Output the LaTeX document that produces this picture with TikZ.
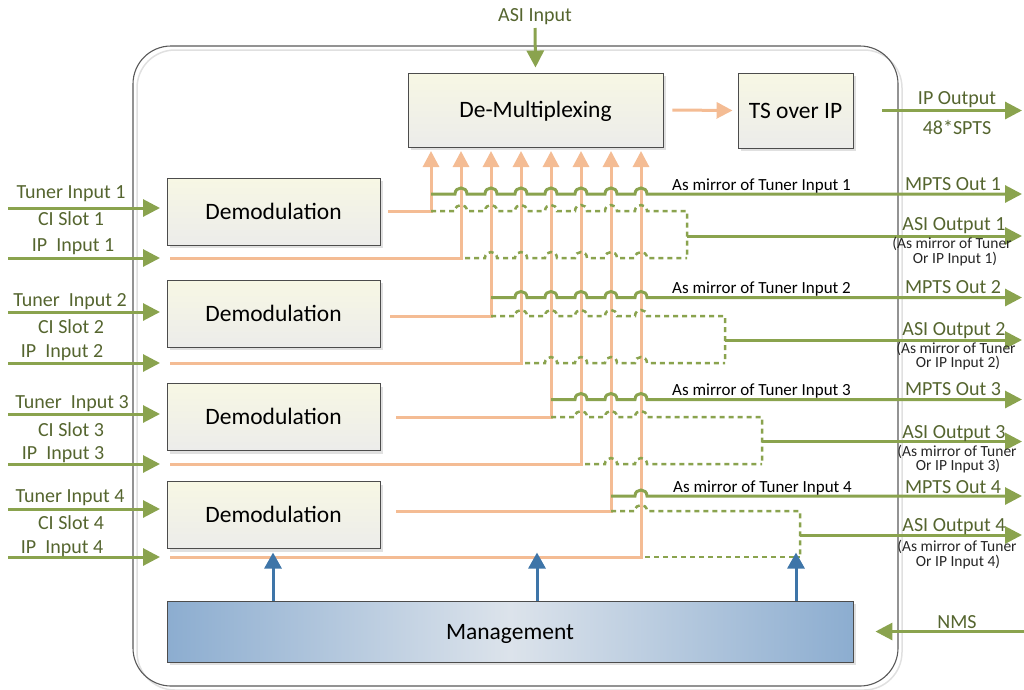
\documentclass[tikz,border=0pt]{standalone}
\usepackage{fontspec}
\setmainfont{Carlito}
\usetikzlibrary{arrows.meta,shadows}
\definecolor{grn}{HTML}{8AA34E}
\definecolor{orng}{HTML}{F4BC94}
\definecolor{bluea}{HTML}{3E75A8}
\definecolor{lbl}{HTML}{55652F}
\definecolor{boxtop}{HTML}{F7F7E4}
\definecolor{boxbot}{HTML}{ECECEA}
\definecolor{mgE}{HTML}{8CADD0}
\definecolor{mgC}{HTML}{DCE3EB}
% horizontal line with hop-overs: style, x0, y, crossing list, x1, extra path
\newcommand\hopline[6]{\draw[#1] (#2,#3) \foreach \v in {#4} {-- (\v-6,#3) .. controls (\v-6,#3-8) and (\v+6,#3-8) .. (\v+6,#3)} -- (#5,#3) #6;}
\begin{document}
\begin{tikzpicture}[x=1pt,y=-1pt,
 blk/.style={draw=black!70, line width=0.9pt, top color=boxtop, bottom color=boxbot,
   drop shadow={shadow xshift=3pt,shadow yshift=-3pt,fill=black!12,opacity=1},
   font=\fontsize{23.5}{26}\selectfont, inner sep=0pt, text height=15pt, text depth=0pt},
 ol/.style={orng, line width=3pt},
 oarr/.style={ol, -{Triangle[length=16pt,width=16pt]}},
 garr/.style={grn, line width=3pt, -{Triangle[length=17pt,width=17pt]}},
 gd/.style={grn, line width=2.5pt, dash pattern=on 5pt off 4pt},
 barr/.style={bluea, line width=3pt, -{Triangle[length=16pt,width=17pt]}},
 lab/.style={text=lbl, font=\fontsize{20}{22}\selectfont, inner sep=0pt, anchor=base},
 mir/.style={text=black, font=\fontsize{17}{19}\selectfont, inner sep=0pt, anchor=base west},
 sm/.style={text=black!85, font=\fontsize{15.5}{17}\selectfont, inner sep=0pt, anchor=base}]
\useasboundingbox (0,0) rectangle (1024,689);
% outer frame
\draw[black!12, line width=1.5pt, rounded corners=38pt] (137,50) rectangle (902,690);
\draw[black!65, line width=1.1pt, rounded corners=38pt] (133,46) rectangle (898,686);
% boxes
\node[blk, minimum width=255pt, minimum height=74pt] (demux) at (535.5,110) {De-Multiplexing};
\node[blk, minimum width=115pt, minimum height=75pt] (ts) at (795.5,110.5) {TS over IP};
\node[blk, minimum width=213pt, minimum height=67pt] (dem1) at (273.5,211.5) {Demodulation};
\node[blk, minimum width=213pt, minimum height=67pt] (dem2) at (273.5,313.5) {Demodulation};
\node[blk, minimum width=213pt, minimum height=67pt] (dem3) at (273.5,417) {Demodulation};
\node[blk, minimum width=213pt, minimum height=67pt] (dem4) at (273.5,515) {Demodulation};
\node[blk, left color=mgE, right color=mgE, middle color=mgC, minimum width=686pt, minimum height=61pt] (mgmt) at (510,631.5) {Management};
% top labels and arrows
\node[lab] (asiin) at (535,21.5) {ASI Input};
\draw[garr] (535,28) -- ([yshift=5pt]demux.north);
\draw[oarr] ([xshift=9pt]demux.east) -- ([xshift=-5pt]ts.west);
\coordinate (ipout) at (1022,110.5);
\draw[garr] ([xshift=29pt]ts.east) -- (ipout);
\node[lab] (ipo) at (957,104) {IP Output};
\node[lab] (spts) at (957,134) {48*SPTS};
% left inputs
\foreach \n/\yt/\ya/\yb/\yc/\yi in {1/208/198/225/251/258, 2/312/306.5/333.5/357.5/363, 3/414/408.5/436.5/459.5/464, 4/509/502.5/529.5/553.5/557}{
  \coordinate (tin\n) at (8,\yt);
  \coordinate (iin\n) at (8,\yi);
  \draw[garr] (tin\n) -- (160,\yt);
  \draw[garr] (iin\n) -- (160,\yi);
  \node[lab] (ci\n) at (71,\yb) {CI Slot \n};
}
\node[lab] (tl1) at (71,198) {Tuner Input 1};
\node[lab] (il1) at (73,251) {IP\ \ Input 1};
\node[lab] (tl2) at (70,306.5) {Tuner\ \ Input 2};
\node[lab] (il2) at (62,357.5) {IP\ \ Input 2};
\node[lab] (tl3) at (72,408.5) {Tuner\ \ Input 3};
\node[lab] (il3) at (63,459.5) {IP\ \ Input 3};
\node[lab] (tl4) at (70,502.5) {Tuner Input 4};
\node[lab] (il4) at (62,553.5) {IP\ \ Input 4};
% orange signal lines
\coordinate (do1) at (388,211);  \coordinate (ip1) at (170,258);
\coordinate (do2) at (390,316);  \coordinate (ip2) at (170,363);
\coordinate (do3) at (396,417);  \coordinate (ip3) at (170,464);
\coordinate (do4) at (396,511);  \coordinate (ip4) at (170,557);
\draw[oarr] (do1) -| (431,151);
\draw[oarr] (ip1) -| (461,151);
\draw[oarr] (do2) -| (491,151);
\draw[oarr] (ip2) -| (521,151);
\draw[oarr] (do3) -| (551,151);
\draw[oarr] (ip3) -| (581,151);
\draw[oarr] (do4) -| (611,151);
\draw[oarr] (ip4) -| (641,151);
% green mirror lines, pair 1
\hopline{garr}{431}{194}{461,491,521,551,581,611,641}{1022}{}
\hopline{gd}{431}{211}{461,491,521,551,581,611,641}{687}{-- (687,258)}
\hopline{gd}{465}{258}{491,521,551,581,611,641}{687}{}
\draw[garr] (687,236) -- (1022,236);
% pair 2
\hopline{garr}{491}{297.5}{521,551,581,611,641}{1022}{}
\hopline{gd}{491}{316}{521,551,581,611,641}{725}{-- (725,363)}
\hopline{gd}{525}{363}{551,581,611,641}{725}{}
\draw[garr] (725,340) -- (1022,340);
% pair 3
\hopline{garr}{551}{399.5}{581,611,641}{1022}{}
\hopline{gd}{551}{417}{581,611,641}{762}{-- (762,464)}
\hopline{gd}{585}{464}{611,641}{762}{}
\draw[garr] (762,441.5) -- (1022,441.5);
% pair 4
\hopline{garr}{611}{496}{641}{1022}{}
\hopline{gd}{611}{511}{641}{800}{-- (800,557)}
\draw[gd] (645,557) -- (800,557);
\draw[garr] (800,535) -- (1022,535);
% mirror texts
\node[mir] (m1) at (672,190) {As mirror of Tuner Input 1};
\node[mir] (m2) at (672,293) {As mirror of Tuner Input 2};
\node[mir] (m3) at (672,395) {As mirror of Tuner Input 3};
\node[mir] (m4) at (673,492.5) {As mirror of Tuner Input 4};
% right labels
\node[lab] (mp1) at (953,190) {MPTS Out 1};
\node[lab] (as1) at (954,230) {ASI Output 1};
\node[sm] (s1a) at (952,248) {(As mirror of Tuner};
\node[sm] (s1b) at (955,263) {Or IP Input 1)};
\node[lab] (mp2) at (953,293) {MPTS Out 2};
\node[lab] (as2) at (954,335) {ASI Output 2};
\node[sm] (s2a) at (956,353) {(As mirror of Tuner};
\node[sm] (s2b) at (958,367) {Or IP Input 2)};
\node[lab] (mp3) at (953,395) {MPTS Out 3};
\node[lab] (as3) at (954,438) {ASI Output 3};
\node[sm] (s3a) at (957,456) {(As mirror of Tuner};
\node[sm] (s3b) at (958,470.5) {Or IP Input 3)};
\node[lab] (mp4) at (953,493) {MPTS Out 4};
\node[lab] (as4) at (954,531.5) {ASI Output 4};
\node[sm] (s4a) at (957,551.5) {(As mirror of Tuner};
\node[sm] (s4b) at (958,566.5) {Or IP Input 4)};
% management
\draw[barr] ([xshift=-237pt]mgmt.north) -- ++(0,-48);
\draw[barr] ([xshift=27pt]mgmt.north) -- ++(0,-48);
\draw[barr] ([xshift=286pt]mgmt.north) -- ++(0,-48);
\coordinate (nmsin) at (1024,631.5);
\draw[garr] (nmsin) -- ([xshift=22pt]mgmt.east);
\node[lab] (nms) at (957,628) {NMS};
\end{tikzpicture}
\end{document}
